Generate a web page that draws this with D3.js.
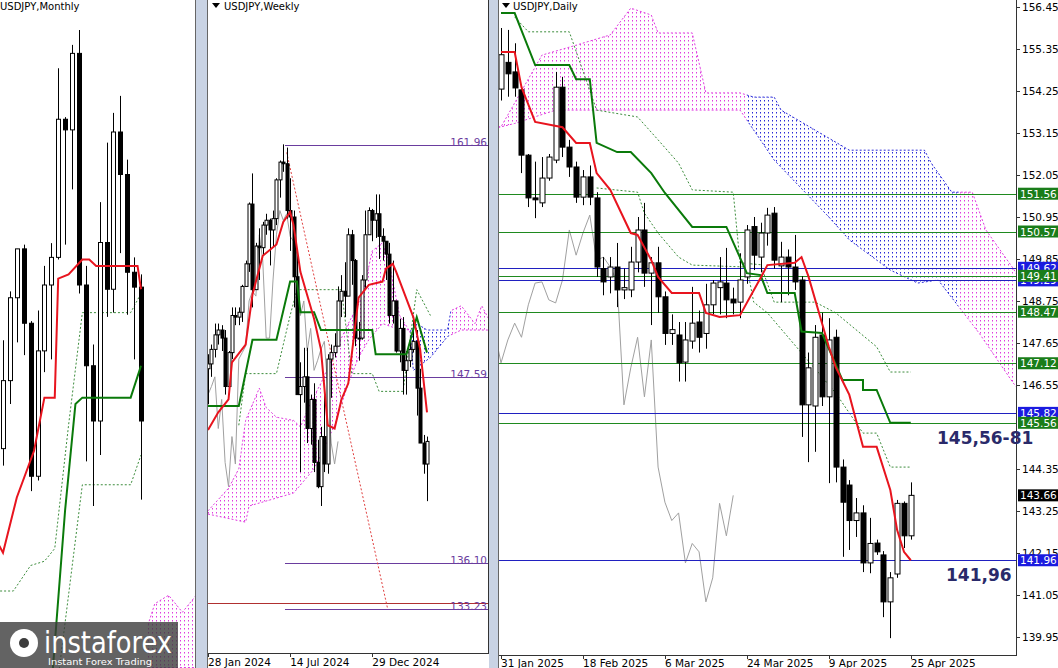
<!DOCTYPE html>
<html><head><meta charset="utf-8">
<script src="https://cdn.jsdelivr.net/npm/d3@7"></script>
<style>
body{margin:0;background:#fff;}
text{font-family:"DejaVu Sans",sans-serif;}
</style></head>
<body><svg width="1058" height="668"></svg>
<script>
// ---------- daily (31 Jan 2025 .. 25 Apr 2025)
const dOpen  = [154.3,155.0,154.75,154.28,152.57,151.45,151.32,151.97,152.44,154.35,152.78,152.26,151.47,152.0,151.45,149.6,149.38,149.64,149.04,149.04,149.77,150.61,149.48,149.75,148.86,147.9,147.86,147.15,147.7,148.2,147.9,148.65,149.1,149.22,148.8,148.72,149.38,150.7,149.9,150.53,151.05,149.67,149.9,149.64,149.3,146.03,146.0,147.86,146.24,147.8,144.4,143.93,143.0,143.2,141.89,142.41,142.1,140.87,141.6,143.45,142.6];
const dHigh  = [155.9,155.85,155.5,154.4,152.6,152.4,152.52,152.6,154.75,154.62,152.97,152.4,152.18,152.3,151.6,149.9,149.9,150.27,149.6,150.17,150.95,151.32,149.9,150.17,149.0,148.4,148.2,148.2,149.12,148.5,149.2,149.3,149.9,150.14,149.1,150.0,150.74,150.95,150.8,151.19,151.21,150.3,150.1,150.48,149.4,147.4,148.12,148.44,148.3,148.0,144.6,144.06,143.59,143.4,143.07,142.5,142.2,141.65,143.54,143.5,144.0];
const dLow   = [154.0,154.1,154.1,152.1,151.21,150.92,151.21,151.9,152.36,152.52,152.0,151.32,151.26,151.26,149.38,148.9,148.95,148.59,148.8,148.85,149.5,149.12,148.12,148.44,147.6,147.6,146.64,146.64,147.5,147.4,147.5,148.4,148.4,148.3,148.4,148.3,149.2,149.56,149.5,150.2,149.6,148.72,148.9,149.04,145.19,144.53,144.8,146.0,143.98,144.0,142.05,142.23,142.57,141.65,141.62,142.1,140.47,139.92,141.5,142.28,142.5];
const dClose = [155.2,154.7,154.33,152.57,151.45,151.4,151.97,152.52,154.35,152.78,152.26,151.47,152.0,151.47,149.64,149.25,149.64,149.04,149.1,149.77,150.61,149.48,149.75,148.86,147.9,148.0,147.13,147.73,148.17,147.8,148.65,149.22,149.25,148.78,148.7,149.3,150.61,149.95,150.53,151.0,149.82,149.9,149.64,149.25,146.03,147.0,147.8,146.24,147.73,144.4,143.48,143.0,143.2,141.89,142.4,142.18,140.87,141.5,143.45,142.6,143.66];
const dTenkan = [[0,155.27],[2,155.27],[3,154.35],[5,153.44],[9,153.3],[11,152.89],[13,152.89],[14,152.1],[16,151.66],[19,150.53],[20,150.48],[22,149.82],[23,149.38],[25,148.96],[29,148.96],[30,148.44],[32,148.33],[35,148.38],[38,149.35],[39,149.69],[43,149.75],[44,149.9],[45,149.4],[48,147.55],[49,147.02],[51,146.29],[53,144.93],[55,144.93],[57,143.8],[58,142.75],[59,142.18],[60,141.96]];
const dKijun = [[0,156.29],[2,156.29],[5,154.93],[10,154.93],[11,154.56],[13,154.56],[14,152.89],[17,152.65],[19,152.65],[22,152.1],[24,151.58],[28,150.69],[33,150.69],[36,149.48],[38,149.43],[39,148.96],[43,148.96],[44,147.95],[47,147.91],[50,146.68],[53,146.68],[53,146.42],[55,146.42],[57,145.56],[60,145.56]];
const dDash1 = [[2,156.19],[4,155.8],[10,155.8],[14,153.75],[20,153.57],[23,152.97],[26,152.36],[28,151.66],[34,151.6],[35,149.75],[38,149.7],[40,148.72],[46,148.72],[49,148.44],[55,147.55],[57,146.89],[60,146.89]];
const dDash2 = [[14,151.71],[20,151.6],[21,151.05],[23,150.53],[26,149.9],[28,149.69],[36,149.64],[37,148.72],[39,148.44],[49,146.34],[53,145.29],[55,145.29],[57,144.4],[60,144.4]];
const dCloudTop = [[-1,153.3],[0,153.31],[6,155.19],[11,155.45],[16,155.72],[19,156.42],[22,156.24],[23,155.77],[28,155.77],[30,154.2],[35,154.2],[37,154.09],[40,154.09],[41,153.75],[51,152.7],[62,152.7],[63,152.36],[66,151.6],[69,151.6],[71,150.61],[75,149.6],[76,149.3]];
const dCloudBot = [[-1,153.3],[0,153.31],[2,153.4],[8,153.75],[35,153.75],[40,152.44],[48,150.95],[51,150.35],[57,149.56],[61,149.22],[64,149.3],[70,147.91],[75,146.6],[76,146.4]];
const dCloudColors = [[-1,36,"pink"],[36,67,"blue"],[67,76,"pink"]];
const dTicks = [156.45,155.35,154.25,153.15,152.05,150.95,149.85,148.75,147.65,146.55,144.35,143.25,142.15,141.05,139.95];
const dDateIdx = [0,12,24,36,48,60];
const dDates = ["31 Jan 2025","18 Feb 2025","6 Mar 2025","24 Mar 2025","9 Apr 2025","25 Apr 2025"];
const dLevels = [151.56,150.57,149.62,149.29,149.41,148.47,147.12,145.82,145.56,141.96];
const dLevelKind = ["g","g","b","b","g","g","g","b","g","b"];

// ---------- weekly (28 Jan 2024 .. 20 Apr 2025)
const wOpen  = [148.1,148.4,149.3,150.2,150.5,150.0,147.0,149.1,151.4,151.3,151.6,153.2,154.6,158.3,153.0,155.7,155.6,157.0,157.3,156.7,157.4,159.8,160.9,160.8,157.9,157.5,153.8,146.5,147.0,147.6,144.4,146.2,142.3,140.8,143.9,142.2,148.7,149.1,149.5,152.3,152.9,152.6,156.4,154.8,150.0,150.0,153.6,156.4,157.9,157.3,157.7,156.3,156.0,155.2,151.4,152.3,149.2,150.6,148.0,148.6,149.3,149.8,146.9,143.5,142.2];
const wHigh  = [149.0,149.6,150.9,150.9,150.8,150.5,149.2,151.9,151.9,151.9,153.3,154.8,158.4,160.2,155.9,156.8,157.2,157.7,157.4,157.9,159.9,161.0,162.0,161.8,159.9,157.9,155.2,148.5,149.4,149.4,146.5,147.2,143.7,144.5,146.5,149.0,149.6,150.3,153.2,153.9,154.7,156.8,156.7,154.9,151.0,153.9,157.9,158.1,158.0,158.9,158.9,156.8,156.0,155.9,154.8,152.3,151.2,151.3,149.2,150.1,151.2,150.5,148.1,144.0,143.9];
const wLow   = [145.9,147.6,148.8,149.6,149.2,146.5,146.5,148.7,150.8,150.8,151.0,153.2,154.1,151.9,153.0,153.6,155.1,156.4,154.5,155.7,157.0,158.7,160.3,157.4,155.4,151.9,146.5,141.7,146.0,143.5,143.4,141.7,140.7,139.6,141.7,141.6,146.3,148.8,149.5,151.3,151.3,152.6,153.3,149.5,148.6,149.9,153.1,156.4,156.0,156.2,154.9,154.8,153.6,150.9,150.9,149.1,148.5,146.5,146.5,148.2,149.1,145.2,143.5,141.6,139.9];
const wClose = [148.4,149.3,150.2,150.5,150.0,147.0,149.1,151.4,151.3,151.6,153.2,154.6,158.3,153.0,155.7,155.6,157.0,157.3,156.7,157.4,159.8,160.9,160.8,157.9,157.5,153.8,146.5,147.0,147.6,144.4,146.2,142.3,140.8,143.9,142.2,148.7,149.1,149.5,152.3,152.9,152.6,156.4,154.8,150.0,150.0,153.6,156.4,157.9,157.3,157.7,156.3,156.0,155.2,151.4,152.3,149.2,150.6,148.0,148.6,149.3,149.8,146.9,143.5,142.2,143.6];
const wTenkan = [[0,144.3],[3,145.4],[6,146.2],[7,148.5],[11,149.6],[13,152.7],[16,155.1],[20,155.8],[22,157.2],[24,157.8],[25,157.0],[27,154.1],[31,151.2],[33,149.3],[35,144.6],[37,144.4],[39,146.2],[41,147.2],[44,152.5],[47,153.3],[51,153.5],[52,154.3],[54,154.6],[55,154.1],[60,151.3],[62,149.3],[64,145.4]];
const wKijun = [[0,145.8],[9,145.8],[13,149.9],[20,149.9],[24,153.5],[26,153.5],[27,151.6],[31,151.6],[33,150.5],[48,150.5],[49,149.0],[58,149.0],[61,151.3],[64,149.1]];
const wDash = [[9,144.6],[11,147.8],[20,147.8],[24,151.4],[26,153.0],[39,153.0],[42,147.8],[48,147.8],[50,146.7],[57,146.7],[61,153.0],[65,151.4]];
const wCloudTop = [[0,139.3],[6,140.7],[9,141.9],[11,144.9],[15,146.9],[17,145.7],[20,145.1],[25,144.9],[27,144.5],[30,146.0],[33,147.2],[37,149.1],[41,150.9],[45,152.5],[48,155.4],[51,155.9],[53,154.6],[56,151.4],[59,150.4],[61,150.9],[64,150.5],[70,150.5],[71,151.7],[74,152.0],[78,150.9],[80,152.0],[82,151.2]];
const wCloudBot = [[0,139.1],[11,138.6],[12,139.6],[25,140.4],[31,141.9],[37,144.6],[41,147.2],[44,148.8],[47,149.9],[51,150.9],[55,150.6],[59,150.5],[60,148.0],[65,148.8],[70,150.1],[74,150.5],[82,150.5]];
const wCloudColors = [[0,59,"pink"],[59,71,"blue"],[71,82,"pink"]];
const wDateIdx = [0,24,48];
const wDates = ["28 Jan 2024","14 Jul 2024","29 Dec 2024"];
const wLevels = [161.96,147.59,136.10,133.23];

// ---------- monthly (Aug 2023 .. Apr 2025)
const mOpen  = [142.3,145.5,149.4,151.7,148.2,141.0,146.9,150.0,151.3,157.8,157.3,160.9,150.0,146.2,143.6,152.0,149.8,157.2,155.2,150.6,149.9];
const mHigh  = [147.4,149.7,151.7,151.9,148.3,148.8,150.9,151.97,160.2,157.9,161.3,162.0,150.9,147.2,153.9,156.7,158.1,158.9,155.9,151.3,150.5];
const mLow   = [141.5,144.4,147.3,146.7,140.3,140.8,145.9,146.5,151.2,151.9,154.5,149.6,141.7,139.6,142.0,148.5,148.7,151.5,148.6,146.5,139.9];
const mClose = [145.5,149.4,151.7,148.2,141.0,146.9,150.0,151.3,157.8,157.3,160.9,150.0,146.2,143.6,152.0,149.8,157.2,155.2,150.6,149.9,143.6];
const mTenkan = [[-1,138.0],[0,137.4],[2,140.0],[4.5,142.2],[6,144.7],[7.5,144.7],[8,150.3],[9.5,150.5],[11.5,151.2],[12.5,151.2],[13.5,150.9],[19.5,150.9],[20,149.8]];
const mKijun = [[7,131.0],[9,139.4],[10.5,144.4],[11.5,144.7],[18.5,144.7],[20,146.2]];
const mDash1 = [[-1,135.6],[1.5,135.6],[4,136.8],[6,137.0],[7.5,137.6],[9.5,143.4],[11.5,148.7],[18.5,148.7],[20,149.6]];
const mDash2 = [[7.8,131.0],[11.5,140.6],[18.5,140.6],[20,142.0]];
const mCloudTop = [[21,134.0],[22,135.0],[24,135.4],[26,134.6],[28,135.4],[29,135.2]];
const mCloudBot = [[21,132.0],[29,132.0]];

const svg = d3.select("svg");
const defs = svg.append("defs");
[["pink","#e03ce0"],["blue","#2a2ad8"]].forEach(([id,c]) => {
    const p = defs.append("pattern").attr("id","dots-"+id)
        .attr("patternUnits","userSpaceOnUse").attr("width",4).attr("height",4);
    p.append("rect").attr("width",1).attr("height",1.5).attr("fill",c);
});
const cloudStroke = {pink:"#e03ce0", blue:"#2a2ad8"};

function panel(cfg) {
    const x = d3.scaleLinear().domain(cfg.xDomain).range(cfg.xRange);
    const y = d3.scaleLinear().domain(cfg.yDomain).range(cfg.yRange);
    defs.append("clipPath").attr("id","clip-"+cfg.id).append("rect")
        .attr("x",cfg.box[0]).attr("y",cfg.box[1]).attr("width",cfg.box[2]-cfg.box[0]).attr("height",cfg.box[3]-cfg.box[1]);
    const g = svg.append("g").attr("clip-path",`url(#clip-${cfg.id})`);
    const line = d3.line().x(d => x(d[0])).y(d => y(d[1]));

    // cloud
    if (cfg.cloudTop) {
        const poly = cfg.cloudTop.concat(cfg.cloudBot.slice().reverse());
        cfg.cloudColors.forEach(([a,b,c],k) => {
            const cid = `cc-${cfg.id}-${k}`;
            defs.append("clipPath").attr("id",cid).append("rect")
                .attr("x",x(a)).attr("y",0).attr("width",x(b)-x(a)).attr("height",668);
            const cg = g.append("g").attr("clip-path",`url(#${cid})`);
            cg.append("path").attr("d",line(poly)+"Z").attr("fill",`url(#dots-${c})`);
            [cfg.cloudTop,cfg.cloudBot].forEach(s => cg.append("path").attr("d",line(s))
                .attr("fill","none").attr("stroke",cloudStroke[c]).attr("stroke-width",1).attr("stroke-dasharray","2,2"));
        });
    }
    (cfg.dashed || []).forEach(s => g.append("path").attr("d",line(s)).attr("fill","none")
        .attr("stroke","#3c8c3c").attr("stroke-width",1).attr("stroke-dasharray","2,2"));

    // chikou = closes shifted back 26
    if (cfg.chikou) {
        const ch = cfg.close.map((c,i) => [i-26,c]).filter(d => d[0] >= cfg.chikouFrom);
        g.append("path").attr("d",line(ch)).attr("fill","none").attr("stroke","#a0a0a0").attr("stroke-width",1);
    }
    (cfg.extra || (() => {}))(g,x,y);

    // candles
    const idx = d3.range(cfg.open.length);
    const cg = g.append("g");
    cg.selectAll("line").data(idx).join("line")
        .attr("x1",i => Math.round(x(i))+0.5).attr("x2",i => Math.round(x(i))+0.5)
        .attr("y1",i => y(cfg.high[i])).attr("y2",i => y(cfg.low[i]))
        .attr("stroke","#000");
    cg.selectAll("rect").data(idx).join("rect")
        .attr("x",i => Math.round(x(i))+0.5-cfg.bw/2)
        .attr("y",i => y(Math.max(cfg.open[i],cfg.close[i])))
        .attr("width",cfg.bw)
        .attr("height",i => Math.max(1,Math.abs(y(cfg.open[i])-y(cfg.close[i]))))
        .attr("fill",i => cfg.close[i] >= cfg.open[i] ? "#fff" : "#000")
        .attr("stroke","#000");

    g.append("path").attr("d",line(cfg.kijun)).attr("fill","none").attr("stroke","#0a7a0a").attr("stroke-width",2);
    g.append("path").attr("d",line(cfg.tenkan)).attr("fill","none").attr("stroke","#e8141e").attr("stroke-width",2);
    return {x,y,g};
}

// separators
svg.append("rect").attr("x",195).attr("y",0).attr("width",12).attr("height",668).attr("fill","#c9d3e4");
svg.append("rect").attr("x",489).attr("y",0).attr("width",9).attr("height",668).attr("fill","#c9d3e4");
svg.append("line").attr("x1",195.5).attr("x2",195.5).attr("y1",0).attr("y2",668).attr("stroke","#666");
svg.append("line").attr("x1",207.5).attr("x2",207.5).attr("y1",0).attr("y2",668).attr("stroke","#666");
svg.append("line").attr("x1",498.5).attr("x2",498.5).attr("y1",0).attr("y2",668).attr("stroke","#666");

// ---------- monthly
panel({id:"m", xDomain:[0,20], xRange:[3,141], yDomain:[162,139.6], yRange:[30,506], box:[0,0,195,668],
    open:mOpen, high:mHigh, low:mLow, close:mClose, bw:4, tenkan:mTenkan, kijun:mKijun, dashed:[mDash1,mDash2],
    cloudTop:mCloudTop, cloudBot:mCloudBot, cloudColors:[[21,29,"pink"]]});
svg.append("text").attr("x",0).attr("y",10).attr("font-size",10).text("USDJPY,Monthly");

// ---------- weekly
const W = panel({id:"w", xDomain:[0,64], xRange:[208,427], yDomain:[161.96,147.59], yRange:[145,377], box:[208,0,488,653],
    open:wOpen, high:wHigh, low:wLow, close:wClose, bw:3, tenkan:wTenkan, kijun:wKijun, dashed:[wDash],
    cloudTop:wCloudTop, cloudBot:wCloudBot, cloudColors:wCloudColors, chikou:true, chikouFrom:0,
    extra:(g,x,y) => {
        wLevels.forEach(v => g.append("line").attr("x1",x(22.5)).attr("x2",488).attr("y1",Math.round(y(v))+0.5).attr("y2",Math.round(y(v))+0.5).attr("stroke","#6a3d9e"));
        g.append("line").attr("x1",208).attr("x2",488).attr("y1",Math.round(y(133.6))+0.5).attr("y2",Math.round(y(133.6))+0.5).attr("stroke","#b03030");
        g.append("line").attr("x1",x(23)).attr("y1",y(161.5)).attr("x2",x(52.5)).attr("y2",y(133.23))
            .attr("stroke","#e04040").attr("stroke-dasharray","2,2");
    }});
wLevels.forEach(v => svg.append("text").attr("x",487).attr("y",W.y(v)+1).attr("text-anchor","end")
    .attr("font-size",10.5).attr("fill","#6a3d9e").text(v.toFixed(2)));
svg.append("line").attr("x1",488.5).attr("x2",488.5).attr("y1",0).attr("y2",654).attr("stroke","#333");
svg.append("line").attr("x1",208).attr("x2",489).attr("y1",653.5).attr("y2",653.5).attr("stroke","#333");
wDateIdx.forEach((d,k) => {
    svg.append("line").attr("x1",Math.round(W.x(d))+0.5).attr("x2",Math.round(W.x(d))+0.5).attr("y1",653).attr("y2",657).attr("stroke","#333");
    svg.append("text").attr("x",W.x(d)).attr("y",666).attr("font-size",10.5).text(wDates[k]);
});
svg.append("text").attr("x",224).attr("y",10).attr("font-size",10).text("USDJPY,Weekly");
svg.append("path").attr("d","M212,3 L220,3 L216,8 Z").attr("fill","#000");

// ---------- daily
const D = panel({id:"d", xDomain:[0,60], xRange:[501,910.8], yDomain:[156.45,139.95], yRange:[7,637], box:[499,0,1017,655],
    open:dOpen, high:dHigh, low:dLow, close:dClose, bw:5, tenkan:dTenkan, kijun:dKijun, dashed:[dDash1,dDash2],
    cloudTop:dCloudTop, cloudBot:dCloudBot, cloudColors:dCloudColors, chikou:true, chikouFrom:-1,
    extra:(g,x,y) => {
        dLevels.forEach((v,k) => g.append("line").attr("x1",499).attr("x2",1017)
            .attr("y1",Math.round(y(v))+0.5).attr("y2",Math.round(y(v))+0.5)
            .attr("stroke",dLevelKind[k]=="g" ? "#1f8a1f" : "#2020c0"));
    }});
svg.append("line").attr("x1",1016.5).attr("x2",1016.5).attr("y1",0).attr("y2",656).attr("stroke","#333");
svg.append("line").attr("x1",499).attr("x2",1017).attr("y1",655.5).attr("y2",655.5).attr("stroke","#333");
dTicks.forEach(v => {
    svg.append("line").attr("x1",1016).attr("x2",1020).attr("y1",Math.round(D.y(v))+0.5).attr("y2",Math.round(D.y(v))+0.5).attr("stroke","#333");
    svg.append("text").attr("x",1022).attr("y",D.y(v)+4).attr("font-size",10.5).text(v.toFixed(2));
});
dLevels.forEach((v,k) => {
    svg.append("rect").attr("x",1018).attr("y",D.y(v)-6).attr("width",40).attr("height",12)
        .attr("fill",dLevelKind[k]=="g" ? "#1a7d1a" : "#1b1be0");
    svg.append("text").attr("x",1020).attr("y",D.y(v)+4).attr("font-size",10.5).attr("fill","#fff").text(v.toFixed(2));
});
const last = dClose[dClose.length-1];
svg.append("rect").attr("x",1018).attr("y",D.y(last)-6).attr("width",40).attr("height",12).attr("fill","#000");
svg.append("text").attr("x",1020).attr("y",D.y(last)+4).attr("font-size",10.5).attr("fill","#fff").text(last.toFixed(2));
dDateIdx.forEach((d,k) => {
    svg.append("line").attr("x1",Math.round(D.x(d))+0.5).attr("x2",Math.round(D.x(d))+0.5).attr("y1",655).attr("y2",659).attr("stroke","#333");
    svg.append("text").attr("x",D.x(d)).attr("y",667).attr("font-size",10.5).text(dDates[k]);
});
svg.append("text").attr("x",513).attr("y",10).attr("font-size",10).text("USDJPY,Daily");
svg.append("path").attr("d","M502,3 L510,3 L506,8 Z").attr("fill","#000");
svg.append("text").attr("x",937).attr("y",444).attr("font-family","Liberation Serif,serif").attr("font-weight","bold")
    .attr("font-size",17).attr("fill","#2a2a6a").text("145,56-81");
svg.append("text").attr("x",946).attr("y",581).attr("font-family","Liberation Serif,serif").attr("font-weight","bold")
    .attr("font-size",17).attr("fill","#2a2a6a").text("141,96");

// ---------- watermark
const wm = svg.append("g");
wm.append("rect").attr("x",0).attr("y",622).attr("width",178).attr("height",46).attr("fill","#3c3c3c").attr("opacity",0.8);
wm.append("circle").attr("cx",24).attr("cy",643).attr("r",14).attr("fill","#fff");
wm.append("circle").attr("cx",24).attr("cy",643).attr("r",5).attr("fill","#3c3c3c");
wm.append("text").attr("x",44).attr("y",653).attr("font-size",30).attr("textLength",128).attr("lengthAdjust","spacingAndGlyphs")
    .attr("fill","#fff").attr("font-family","Liberation Sans,Arial,sans-serif").text("instaforex");
wm.append("text").attr("x",48).attr("y",665).attr("font-size",9.5).attr("textLength",104).attr("lengthAdjust","spacingAndGlyphs")
    .attr("fill","#fff").text("Instant Forex Trading");
</script></body></html>
